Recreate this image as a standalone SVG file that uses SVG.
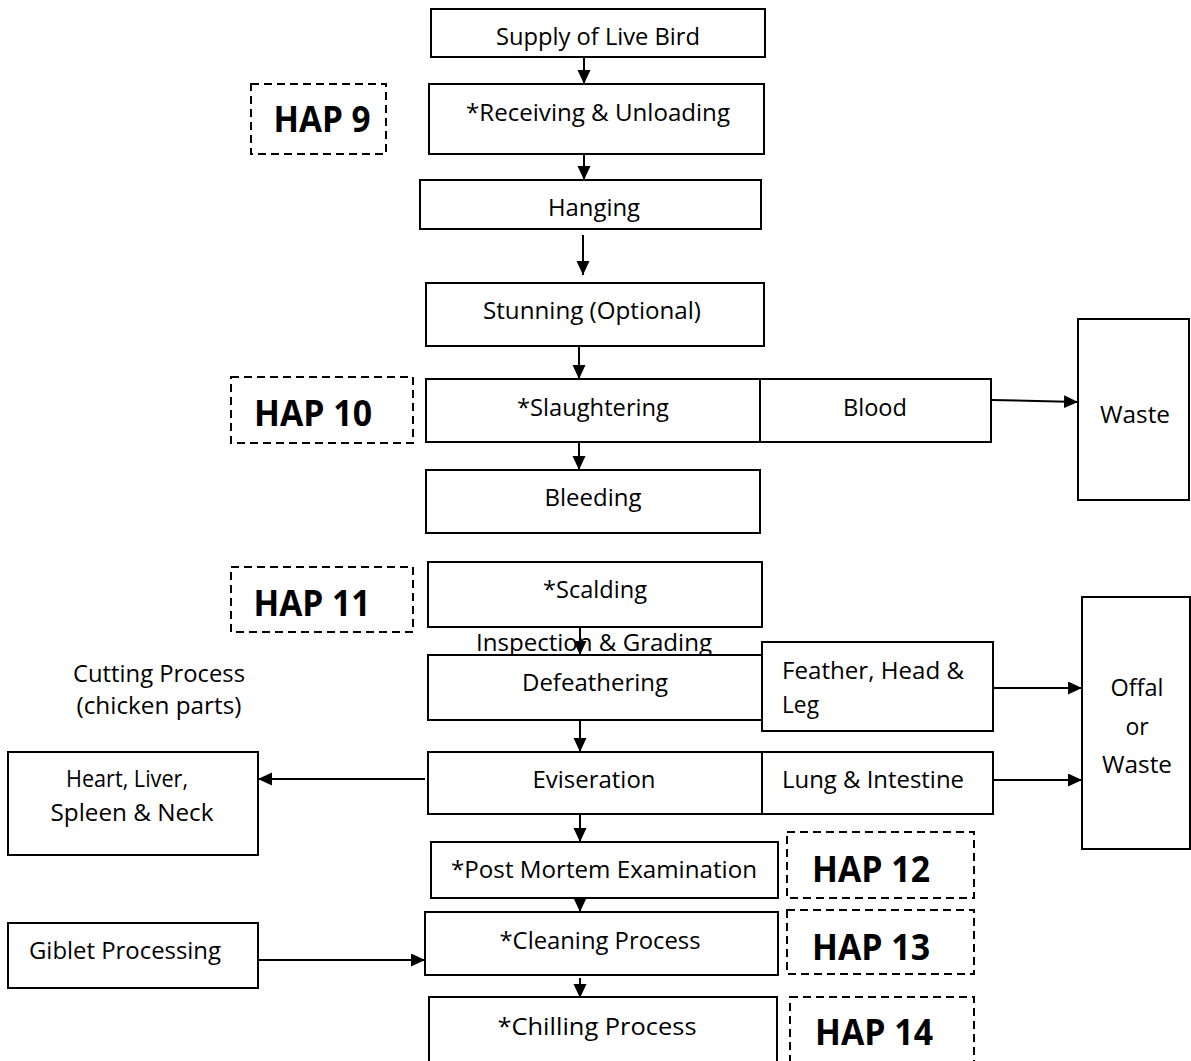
<svg xmlns="http://www.w3.org/2000/svg" width="1191" height="1061" viewBox="0 0 1191 1061">
  <style>
    .box { fill: #fff; stroke: #000; stroke-width: 2; }
    .hap { fill: none; stroke: #000; stroke-width: 2; stroke-dasharray: 8 5; }
    .t { font-family: "Open Sans", "Liberation Sans", sans-serif; font-size: 23px; fill: #000; }
    .c { text-anchor: middle; }
    .h { font-family: "Open Sans", "Liberation Sans", sans-serif; font-size: 35px; font-weight: bold; fill: #000; text-anchor: middle; }
    .conn { stroke: #000; stroke-width: 2; fill: none; marker-end: url(#arrow); }
  </style>
  <defs>
    <marker id="arrow" markerUnits="userSpaceOnUse" markerWidth="16" markerHeight="14" refX="14" refY="6.5" orient="auto">
      <path d="M0,0 L14,6.5 L0,13 Z" fill="#000"/>
    </marker>
  </defs>
  <rect width="1191" height="1061" fill="#fff"/>

  <!-- flow arrows -->
  <g id="connectors">
    <line class="conn" x1="584" y1="57" x2="584" y2="84"/>
    <line class="conn" x1="584" y1="154" x2="584" y2="180"/>
    <line class="conn" x1="583" y1="235" x2="583" y2="275"/>
    <line class="conn" x1="579" y1="346" x2="579" y2="379"/>
    <line class="conn" x1="579" y1="442" x2="579" y2="470"/>
    <line class="conn" x1="580" y1="627" x2="580" y2="655"/>
    <line class="conn" x1="580" y1="720" x2="580" y2="752"/>
    <line class="conn" x1="580" y1="814" x2="580" y2="842"/>
    <line class="conn" x1="580" y1="898" x2="580" y2="912"/>
    <line class="conn" x1="580" y1="978" x2="580" y2="998"/>
    <line class="conn" x1="991" y1="400" x2="1078" y2="402"/>
    <line class="conn" x1="993" y1="688" x2="1082" y2="688"/>
    <line class="conn" x1="993" y1="780" x2="1082" y2="780"/>
    <line class="conn" x1="425" y1="779" x2="258" y2="779"/>
    <line class="conn" x1="258" y1="960" x2="425" y2="960" stroke-width="3"/>
  </g>

  <g id="supply">
    <rect class="box" x="431" y="9" width="334" height="48"/>
    <text class="t c" x="598" y="45" textLength="204" lengthAdjust="spacingAndGlyphs">Supply of Live Bird</text>
  </g>
  <g id="hap9">
    <rect class="hap" x="251" y="84" width="135" height="70"/>
    <text class="h" x="322" y="132" textLength="97" lengthAdjust="spacingAndGlyphs">HAP 9</text>
  </g>
  <g id="receiving">
    <rect class="box" x="429" y="84" width="335" height="70"/>
    <text class="t c" x="598" y="121" textLength="264" lengthAdjust="spacingAndGlyphs">*Receiving &amp; Unloading</text>
  </g>
  <g id="hanging">
    <rect class="box" x="420" y="180" width="341" height="49"/>
    <text class="t c" x="594" y="216" textLength="92" lengthAdjust="spacingAndGlyphs">Hanging</text>
  </g>
  <g id="stunning">
    <rect class="box" x="426" y="283" width="338" height="63"/>
    <text class="t c" x="592" y="319" textLength="218" lengthAdjust="spacingAndGlyphs">Stunning (Optional)</text>
  </g>
  <g id="hap10">
    <rect class="hap" x="231" y="377" width="182" height="66"/>
    <text class="h" x="313" y="426" textLength="118" lengthAdjust="spacingAndGlyphs">HAP 10</text>
  </g>
  <g id="slaughtering">
    <rect class="box" x="426" y="379" width="334" height="63"/>
    <text class="t c" x="593" y="416" textLength="152" lengthAdjust="spacingAndGlyphs">*Slaughtering</text>
  </g>
  <g id="blood">
    <rect class="box" x="760" y="379" width="231" height="63"/>
    <text class="t c" x="875" y="416" textLength="64" lengthAdjust="spacingAndGlyphs">Blood</text>
  </g>
  <g id="waste">
    <rect class="box" x="1078" y="319" width="111" height="181"/>
    <text class="t c" x="1135" y="423" textLength="70" lengthAdjust="spacingAndGlyphs">Waste</text>
  </g>
  <g id="bleeding">
    <rect class="box" x="426" y="470" width="334" height="63"/>
    <text class="t c" x="593" y="506" textLength="97" lengthAdjust="spacingAndGlyphs">Bleeding</text>
  </g>
  <g id="hap11">
    <rect class="hap" x="231" y="567" width="182" height="65"/>
    <text class="h" x="312" y="616" textLength="117" lengthAdjust="spacingAndGlyphs">HAP 11</text>
  </g>
  <g id="scalding">
    <rect class="box" x="428" y="562" width="334" height="65"/>
    <text class="t c" x="595" y="598" textLength="104" lengthAdjust="spacingAndGlyphs">*Scalding</text>
  </g>
  <g id="inspection">
    <text class="t c" x="594" y="651" textLength="236" lengthAdjust="spacingAndGlyphs">Inspection &amp; Grading</text>
  </g>
  <g id="cutting">
    <text class="t c" x="159" y="682" textLength="172" lengthAdjust="spacingAndGlyphs">Cutting Process</text>
    <text class="t c" x="159" y="714" textLength="165" lengthAdjust="spacingAndGlyphs">(chicken parts)</text>
  </g>
  <g id="defeathering">
    <rect class="box" x="428" y="655" width="334" height="65"/>
    <text class="t c" x="595" y="691" textLength="146" lengthAdjust="spacingAndGlyphs">Defeathering</text>
  </g>
  <g id="feather">
    <rect class="box" x="762" y="642" width="231" height="89"/>
    <text class="t" x="782" y="679" textLength="182" lengthAdjust="spacingAndGlyphs">Feather, Head &amp;</text>
    <text class="t" x="782" y="713" textLength="37" lengthAdjust="spacingAndGlyphs">Leg</text>
  </g>
  <g id="offal">
    <rect class="box" x="1082" y="597" width="108" height="252"/>
    <text class="t c" x="1137" y="696" textLength="53" lengthAdjust="spacingAndGlyphs">Offal</text>
    <text class="t c" x="1137" y="735">or</text>
    <text class="t c" x="1137" y="773" textLength="70" lengthAdjust="spacingAndGlyphs">Waste</text>
  </g>
  <g id="eviseration">
    <rect class="box" x="428" y="752" width="334" height="62"/>
    <text class="t c" x="594" y="788" textLength="123" lengthAdjust="spacingAndGlyphs">Eviseration</text>
  </g>
  <g id="lung">
    <rect class="box" x="762" y="752" width="231" height="62"/>
    <text class="t" x="782" y="788" textLength="182" lengthAdjust="spacingAndGlyphs">Lung &amp; Intestine</text>
  </g>
  <g id="heart">
    <rect class="box" x="8" y="752" width="250" height="103"/>
    <text class="t c" x="127" y="787" textLength="122" lengthAdjust="spacingAndGlyphs">Heart, Liver,</text>
    <text class="t c" x="132" y="821" textLength="163" lengthAdjust="spacingAndGlyphs">Spleen &amp; Neck</text>
  </g>
  <g id="postmortem">
    <rect class="box" x="431" y="842" width="347" height="56"/>
    <text class="t c" x="604" y="878" textLength="306" lengthAdjust="spacingAndGlyphs">*Post Mortem Examination</text>
  </g>
  <g id="hap12">
    <rect class="hap" x="787" y="832" width="187" height="66"/>
    <text class="h" x="871" y="882" textLength="118" lengthAdjust="spacingAndGlyphs">HAP 12</text>
  </g>
  <g id="giblet">
    <rect class="box" x="8" y="923" width="250" height="65"/>
    <text class="t c" x="125" y="959" textLength="192" lengthAdjust="spacingAndGlyphs">Giblet Processing</text>
  </g>
  <g id="cleaning">
    <rect class="box" x="425" y="912" width="353" height="63"/>
    <text class="t c" x="600" y="949" textLength="201" lengthAdjust="spacingAndGlyphs">*Cleaning Process</text>
  </g>
  <g id="hap13">
    <rect class="hap" x="787" y="910" width="187" height="64"/>
    <text class="h" x="871" y="960" textLength="118" lengthAdjust="spacingAndGlyphs">HAP 13</text>
  </g>
  <g id="chilling">
    <rect class="box" x="429" y="997" width="348" height="70"/>
    <text class="t c" x="597" y="1035" textLength="199" lengthAdjust="spacingAndGlyphs">*Chilling Process</text>
  </g>
  <g id="hap14">
    <rect class="hap" x="790" y="997" width="184" height="70"/>
    <text class="h" x="874" y="1045" textLength="118" lengthAdjust="spacingAndGlyphs">HAP 14</text>
  </g>
</svg>
